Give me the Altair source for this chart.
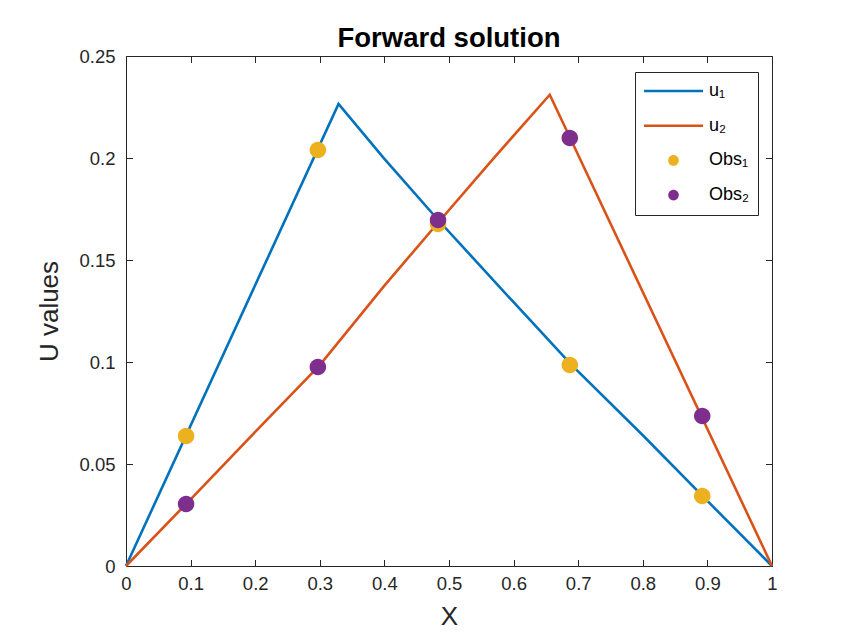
import altair as alt
import pandas as pd

# ---- data ----
u1_x = [0.0, 0.329, 0.4, 0.485, 0.6, 0.69, 0.8, 0.9, 1.0]
u1_y = [0.0, 0.2265, 0.1996, 0.169, 0.1293, 0.0985, 0.0641, 0.0319, 0.0]
u2_x = [0.0, 0.1, 0.2, 0.3, 0.4, 0.485, 0.57, 0.656, 1.0]
u2_y = [0.0, 0.0327, 0.0657, 0.0985, 0.1374, 0.169, 0.2002, 0.231, 0.0]
obs_x = [0.093, 0.297, 0.483, 0.687, 0.892]
obs1_y = [0.0637, 0.2039, 0.1676, 0.0985, 0.0343]
obs2_y = [0.0304, 0.0975, 0.1696, 0.2098, 0.0735]

names = ["u\u2081", "u\u2082", "Obs\u2081", "Obs\u2082"]
colors = ["#0072BD", "#D95319", "#EDB120", "#7E2F8E"]
x_ticks = [0, 0.1, 0.2, 0.3, 0.4, 0.5, 0.6, 0.7, 0.8, 0.9, 1]
y_ticks = [0, 0.05, 0.1, 0.15, 0.2, 0.25]

lines_df = pd.DataFrame(
    {"x": u1_x + u2_x, "y": u1_y + u2_y,
     "series": [names[0]] * len(u1_x) + [names[1]] * len(u2_x)}
)
obs_df = pd.DataFrame(
    {"x": obs_x + obs_x, "y": obs1_y + obs2_y,
     "series": [names[2]] * len(obs_x) + [names[3]] * len(obs_x)}
)

W, H = 646, 510
FONT = "Liberation Sans"
AX = "#262626"

line_path = "M-1,-0.042H1V0.042H-1Z"
circ_path = "M-0.18,0A0.18,0.18,0,1,1,0.18,0A0.18,0.18,0,1,1,-0.18,0Z"
shapes = [line_path, line_path, circ_path, circ_path]

xs = alt.Scale(domain=[0, 1], nice=False, zero=False)
ys = alt.Scale(domain=[0, 0.25], nice=False, zero=False)

def tick_axis(orient, offset, values):
    return alt.Axis(orient=orient, offset=offset, values=values, labels=False,
                    domain=True, domainColor=AX, domainWidth=1, grid=False,
                    ticks=True, tickSize=6.5, tickColor=AX, tickWidth=1,
                    title=None)

axis_x = alt.Axis(orient="bottom", values=x_ticks, format="~g", ticks=False,
                  domain=False, grid=False, labelFont=FONT, labelFontSize=18.5,
                  labelColor=AX, labelPadding=8, labelFlush=False,
                  title="X", titleFont=FONT, titleFontSize=26,
                  titleFontWeight="normal", titleColor=AX, titlePadding=11)
axis_y = alt.Axis(orient="left", values=y_ticks, format="~g", ticks=False,
                  domain=False, grid=False, labelFont=FONT, labelFontSize=18.5,
                  labelColor=AX, labelPadding=11, labelFlush=False,
                  title="U values", titleFont=FONT, titleFontSize=26,
                  titleFontWeight="normal", titleColor=AX, titlePadding=16)

leg = alt.Legend(title=None, orient="none", legendX=509, legendY=16,
                 symbolSize=3481, symbolStrokeWidth=0, labelFont=FONT,
                 labelFontSize=18, labelColor="#000000", labelOffset=6,
                 padding=9, strokeColor=AX, fillColor="white",
                 clipHeight=20, rowPadding=14.7, labelLimit=300)

lines = alt.Chart(lines_df).mark_line(strokeWidth=2.6).encode(
    x=alt.X("x:Q", scale=xs, axis=axis_x),
    y=alt.Y("y:Q", scale=ys, axis=axis_y),
    stroke=alt.Stroke("series:N", scale=alt.Scale(domain=names[:2], range=colors[:2]),
                      legend=None),
)

points = alt.Chart(obs_df).mark_point(filled=True, opacity=1, size=8400,
                                      strokeWidth=0).encode(
    x=alt.X("x:Q", scale=xs, axis=tick_axis("top", -H, x_ticks)),
    y=alt.Y("y:Q", scale=ys, axis=tick_axis("right", -W, y_ticks)),
    color=alt.Color("series:N", scale=alt.Scale(domain=names, range=colors), legend=leg),
    shape=alt.Shape("series:N", scale=alt.Scale(domain=names, range=shapes), legend=leg),
    order=alt.Order("series:N"),
)

ticks2 = alt.Chart(obs_df).mark_point(opacity=0).encode(
    x=alt.X("x:Q", scale=xs, axis=tick_axis("bottom", -H, x_ticks)),
    y=alt.Y("y:Q", scale=ys, axis=tick_axis("left", -W, y_ticks)),
)

chart = alt.layer(lines, points, ticks2).resolve_axis(
    x="independent", y="independent"
).properties(
    width=W, height=H,
    title=alt.TitleParams("Forward solution", font=FONT, fontSize=27.5,
                          fontWeight="bold", color="#000000", anchor="middle",
                          offset=-5),
    autosize=alt.AutoSizeParams(type="none"),
    padding={"left": 118, "top": 48, "right": 70, "bottom": 69},
).configure_view(strokeWidth=0).configure(background="white")

chart.save("out.html", embed_options={"renderer": "svg", "actions": False})
